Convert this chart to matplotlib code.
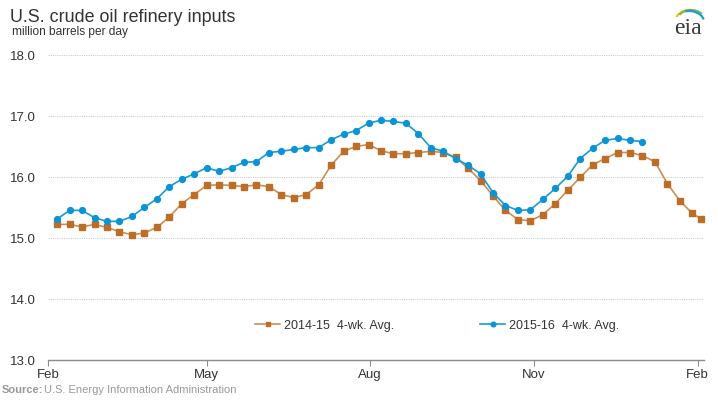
import matplotlib
matplotlib.use('Agg')
import matplotlib.pyplot as plt
from matplotlib.patches import Arc
import pandas as pd

plt.rcParams['font.family'] = ['Liberation Sans', 'DejaVu Sans']

# week-ending dates (plotted on a Feb-Feb seasonal axis)
weeks = list(pd.date_range('2015-02-06', periods=52, freq='7D')) + [pd.Timestamp('2016-02-03')]

avg_2014_15 = [15.22, 15.22, 15.18, 15.22, 15.17, 15.10, 15.05, 15.08, 15.17, 15.34,
               15.56, 15.71, 15.86, 15.87, 15.86, 15.84, 15.87, 15.84, 15.71, 15.66,
               15.71, 15.87, 16.19, 16.42, 16.50, 16.53, 16.43, 16.38, 16.38, 16.40,
               16.42, 16.40, 16.32, 16.14, 15.94, 15.69, 15.45, 15.30, 15.28, 15.38,
               15.56, 15.78, 15.99, 16.20, 16.30, 16.40, 16.40, 16.35, 16.25, 15.89,
               15.61, 15.40, 15.31]

avg_2015_16 = [15.31, 15.45, 15.45, 15.33, 15.27, 15.27, 15.35, 15.50, 15.64, 15.84,
               15.96, 16.05, 16.15, 16.09, 16.15, 16.24, 16.25, 16.40, 16.42, 16.45,
               16.48, 16.48, 16.61, 16.70, 16.76, 16.88, 16.93, 16.91, 16.88, 16.71,
               16.48, 16.42, 16.30, 16.19, 16.05, 15.74, 15.53, 15.45, 15.46, 15.63,
               15.81, 16.01, 16.30, 16.47, 16.60, 16.63, 16.60, 16.58]

month_ticks = ['2015-02-01', '2015-05-01', '2015-08-01', '2015-11-01', '2016-02-01']
month_labels = ['Feb', 'May', 'Aug', 'Nov', 'Feb']
y_ticks = [13, 14, 15, 16, 17, 18]

W, H = 718, 402
fig = plt.figure(figsize=(W / 100, H / 100), dpi=100)
ax = fig.add_axes([48.3 / W, 1 - 360.7 / H, (704 - 48.3) / W, (360.7 - 56) / H])

orange_line, orange_mk = '#cc8f55', '#bd6e26'
blue_line, blue_mk = '#1a9ad6', '#0a94d6'

ax.plot(weeks, avg_2014_15, color=orange_line, lw=1.2, marker='s', ms=4.0,
        mfc=orange_mk, mec=orange_mk, label='2014-15  4-wk. Avg.', clip_on=False, zorder=3)
ax.plot(weeks[:len(avg_2015_16)], avg_2015_16, color=blue_line, lw=1.2, marker='o', ms=4.2,
        mfc=blue_mk, mec=blue_mk, label='2015-16  4-wk. Avg.', zorder=4)

ax.set_ylim(13, 18)
ax.set_yticks(y_ticks)
ax.set_yticklabels([f'{v:.1f}' for v in y_ticks])
ax.set_xlim(pd.Timestamp('2015-02-01'), pd.Timestamp('2016-02-01') + pd.Timedelta(days=3.6))
ax.set_xticks([pd.Timestamp(d) for d in month_ticks])
ax.set_xticklabels(month_labels)

ax.grid(axis='y', color='#cccccc', ls=(0, (1, 1)), lw=0.8)
ax.set_axisbelow(True)
for s in ['left', 'right', 'top']:
    ax.spines[s].set_visible(False)
ax.spines['bottom'].set_color('#8c8c8c')
ax.spines['bottom'].set_linewidth(1.0)
ax.tick_params(axis='y', length=0, pad=9, labelsize=9.5, labelcolor='#333333')
ax.tick_params(axis='x', length=4, width=0.8, color='#8c8c8c', pad=2, labelsize=9.5,
               labelcolor='#333333')

leg = ax.legend(loc='center', bbox_to_anchor=(437 / W, 1 - 326 / H), bbox_transform=fig.transFigure,
                ncol=2, frameon=False, fontsize=9, handlelength=2.0, handletextpad=0.3,
                columnspacing=6.9, markerscale=0.8)
for t in leg.get_texts():
    t.set_color('#333333')

fig.text(10 / W, 1 - 17 / H, 'U.S. crude oil refinery inputs', fontsize=12.9, color='#333333',
         va='center', ha='left')
fig.text(12 / W, 1 - 32 / H, 'million barrels per day', fontsize=8.6, color='#333333',
         va='center', ha='left')
fig.text(2 / W, 1 - 390 / H, 'Source:', fontsize=8, color='#999999', fontweight='bold',
         va='center', ha='left')
fig.text(44 / W, 1 - 390 / H, 'U.S. Energy Information Administration', fontsize=8,
         color='#999999', va='center', ha='left')

# eia logo
lax = fig.add_axes([665 / W, 1 - 42 / H, 45 / W, 42 / H])
lax.set_xlim(0, 45)
lax.set_ylim(42, 0)
lax.axis('off')
lax.text(22.5, 29, 'eia', fontsize=17, family='Liberation Serif', color='#3a3a3a',
         ha='center', va='center')
lax.add_patch(Arc((25, 23), 30, 24, theta1=200, theta2=285, color='#f2c318', lw=1.6))
lax.add_patch(Arc((26, 24), 30, 26, theta1=215, theta2=320, color='#7cb846', lw=1.6))
lax.add_patch(Arc((24, 23), 30, 22, theta1=250, theta2=350, color='#1d9bd7', lw=1.6))

fig.savefig('out.png', dpi=100)
